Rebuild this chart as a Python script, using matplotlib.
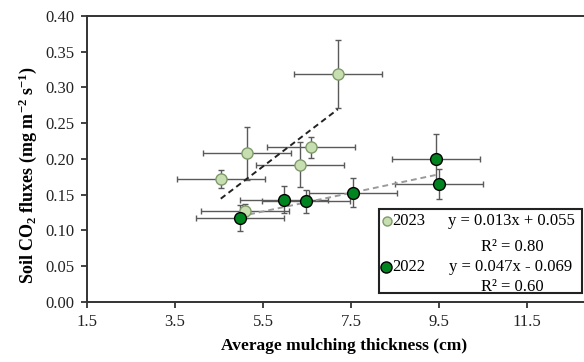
import numpy as np
import matplotlib
matplotlib.use("Agg")
import matplotlib.pyplot as plt
from matplotlib.patches import Rectangle

plt.rcParams["font.family"] = ["Liberation Serif", "DejaVu Serif"]
plt.rcParams["mathtext.fontset"] = "custom"
plt.rcParams["mathtext.rm"] = "Liberation Serif:bold"
plt.rcParams["mathtext.default"] = "rm"

# 2023 (light green)
x_2023 = [4.54, 5.13, 7.20, 6.35, 6.58, 5.08]
y_2023 = [0.172, 0.208, 0.319, 0.192, 0.216, 0.127]
xerr_2023 = [1.0, 1.0, 1.0, 1.0, 1.0, 1.0]
yerr_2023 = [0.012, 0.037, 0.048, 0.031, 0.015, 0.010]

# 2022 (dark green)
x_2022 = [4.97, 5.97, 6.48, 7.54, 9.44, 9.49]
y_2022 = [0.117, 0.143, 0.141, 0.153, 0.200, 0.165]
xerr_2022 = [1.0, 1.0, 1.0, 1.0, 1.0, 1.0]
yerr_2022 = [0.018, 0.019, 0.016, 0.020, 0.035, 0.021]

# trend lines as drawn (slope, intercept)
fit_2023 = (0.047, -0.069)
fit_2022 = (0.013, 0.055)

legend_years = ["2023", "2022"]
legend_eqs = ["y = 0.013x + 0.055", "y = 0.047x - 0.069"]
legend_r2 = ["R\u00b2 = 0.80", "R\u00b2 = 0.60"]

light = "#c6deb0"
light_edge = "#7f9a6c"
dark = "#00841f"

fig = plt.figure(figsize=(5.84, 3.62), dpi=100)
ax = fig.add_axes([0.149, 0.166, 0.851, 0.790])

err_kw = dict(fmt="none", ecolor="#5a5a5a", elinewidth=1.0, capsize=2.5, capthick=1.0, zorder=2)

ax.errorbar(x_2023, y_2023, xerr=xerr_2023, yerr=yerr_2023, **err_kw)
xs = np.array([min(x_2023), max(x_2023)])
ax.plot(xs, fit_2023[0] * xs + fit_2023[1], ls=(0, (3, 2)), color="#222222", lw=1.4, zorder=3)
ax.plot(x_2023, y_2023, "o", ms=8, mfc=light, mec=light_edge, mew=1.0, zorder=4)

ax.errorbar(x_2022, y_2022, xerr=xerr_2022, yerr=yerr_2022, **err_kw)
xs = np.array([min(x_2022), max(x_2022)])
ax.plot(xs, fit_2022[0] * xs + fit_2022[1], ls=(0, (3, 2)), color="#9a9a9a", lw=1.4, zorder=3)
ax.plot(x_2022, y_2022, "o", ms=8.5, mfc=dark, mec="black", mew=1.0, zorder=5)

ax.set_xlim(1.5, 12.795)
ax.set_ylim(0, 0.40)
ax.set_xticks(np.arange(1.5, 12.0, 2.0))
ax.set_yticks(np.arange(0, 0.401, 0.05))
ax.set_yticklabels([f"{v:.2f}" for v in np.arange(0, 0.401, 0.05)])
ax.tick_params(direction="out", length=4, width=1.2, labelsize=12, colors="#222222", pad=5)
for s in ["left", "bottom", "top"]:
    ax.spines[s].set_linewidth(1.4)
    ax.spines[s].set_color("#333333")
ax.spines["right"].set_visible(False)

ax.set_xlabel("Average mulching thickness (cm)", fontsize=12.5, fontweight="bold")
ax.set_ylabel("Soil CO$_2$ fluxes (mg m$^{-2}$ s$^{-1}$)", fontsize=13, fontweight="bold")
ax.xaxis.set_label_coords(0.518, -0.125)
ax.yaxis.set_label_coords(-0.097, 0.444)

# legend box
ax.add_patch(Rectangle((0.588, 0.030), 0.408, 0.295, transform=ax.transAxes,
                       fill=True, facecolor="white", edgecolor="#222222", lw=1.5, zorder=6))
row_y = [0.284, 0.123]
r2_y = [0.193, 0.053]
ax.plot(0.603, row_y[0], "o", ms=6.5, mfc=light, mec=light_edge, mew=1.0, transform=ax.transAxes, zorder=7)
ax.plot(0.602, row_y[1], "o", ms=8, mfc=dark, mec="black", mew=1.0, transform=ax.transAxes, zorder=7)
for i in range(2):
    ax.text(0.614, row_y[i], legend_years[i], transform=ax.transAxes, fontsize=12,
            ha="left", va="center", zorder=7)
    ax.text(0.853, row_y[i], legend_eqs[i], transform=ax.transAxes, fontsize=12,
            ha="center", va="center", zorder=7)
    ax.text(0.855, r2_y[i], legend_r2[i], transform=ax.transAxes, fontsize=12,
            ha="center", va="center", zorder=7)

fig.savefig("out.png", dpi=100)
